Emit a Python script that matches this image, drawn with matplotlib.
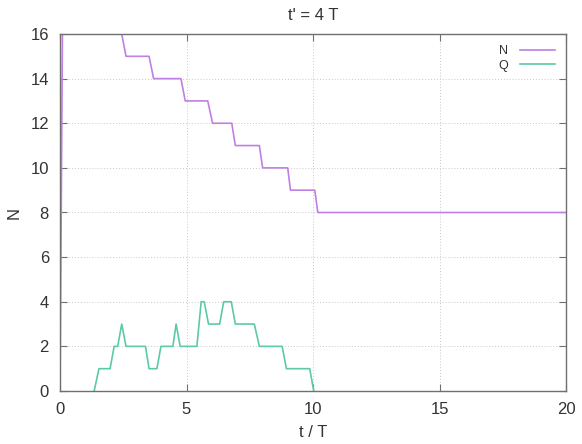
import matplotlib
matplotlib.use('Agg')
import matplotlib.pyplot as plt

plt.rcParams['font.family'] = ['Liberation Sans', 'DejaVu Sans']

# N(t): values (line leaves the top of the frame near t=0)
n_t = [0.0, 0.15, 2.27, 2.44, 2.61, 3.52, 3.70, 4.78, 4.95, 5.84, 6.03,
       6.79, 6.93, 7.88, 8.01, 9.00, 9.11, 10.07, 10.19, 20.0]
n_val = [0, 25, 17, 16, 15, 15, 14, 14, 13, 13, 12,
         12, 11, 11, 10, 10, 9, 9, 8, 8]

# Q(t)
q_t = [1.35, 1.54, 1.98, 2.14, 2.28, 2.44, 2.61, 3.38, 3.52, 3.83, 3.99,
       4.46, 4.59, 4.75, 5.41, 5.58, 5.70, 5.87, 6.31, 6.47, 6.77, 6.93,
       7.68, 7.88, 8.78, 8.95, 9.87, 10.03]
q_val = [0, 1, 1, 2, 2, 3, 2, 2, 1, 1, 2,
         2, 3, 2, 2, 4, 4, 3, 3, 4, 4, 3,
         3, 2, 2, 1, 1, 0]

x_ticks = [0, 5, 10, 15, 20]
y_ticks = [0, 2, 4, 6, 8, 10, 12, 14, 16]

fig = plt.figure(figsize=(5.82, 4.44), dpi=100)
ax = fig.add_axes([60 / 582, 1 - 391 / 444, 506 / 582, 357 / 444])

ax.plot(n_t, n_val, color='#c07fe2', lw=1.2, label='N')
ax.plot(q_t, q_val, color='#5ccaa3', lw=1.2, label='Q')

ax.set_xlim(0, 20)
ax.set_ylim(0, 16)
ax.set_xticks(x_ticks)
ax.set_yticks(y_ticks)
ax.grid(True, color='#c8c8c8', linestyle=(0, (1, 2)), lw=0.7)

for s in ax.spines.values():
    s.set_color('#707070')
    s.set_linewidth(1.0)
ax.tick_params(direction='in', top=True, right=True, length=5,
               color='#707070', labelsize=12, labelcolor='#333333', pad=8)

ax.set_title("t' = 4 T", fontsize=12, color='#333333', pad=10)
ax.set_xlabel('t / T', fontsize=12, color='#333333', labelpad=6)
ax.set_ylabel('N', fontsize=12, color='#333333', labelpad=6)

leg = ax.legend(loc='upper right', markerfirst=False, frameon=False,
                fontsize=9, handlelength=2.8, handletextpad=0.9,
                labelspacing=0.2, borderaxespad=0.5)
for t in leg.get_texts():
    t.set_color('#333333')

fig.savefig('out.png', dpi=100)
